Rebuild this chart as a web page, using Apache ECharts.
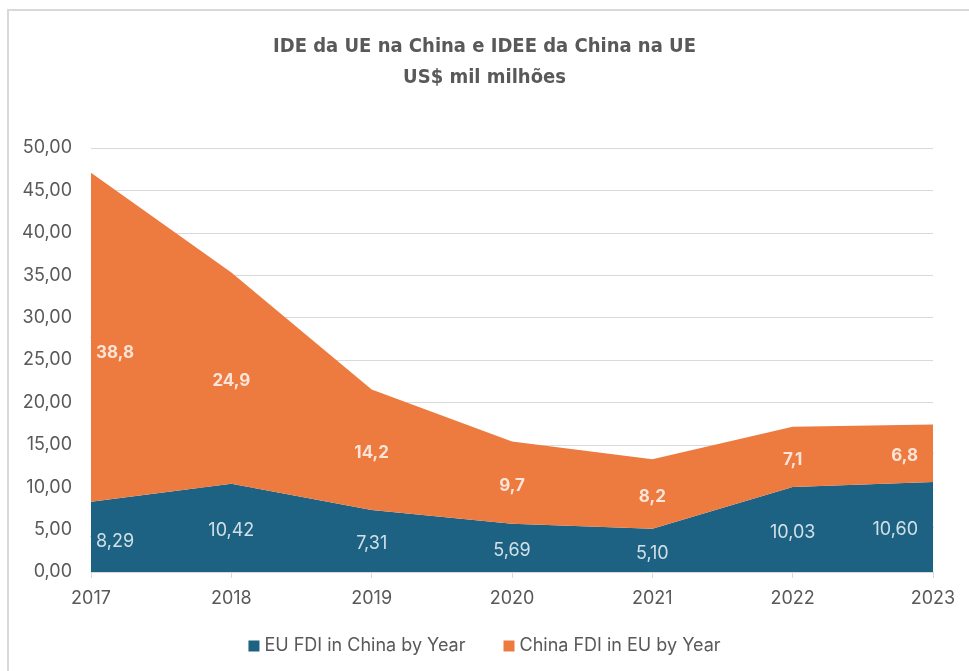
<!DOCTYPE html>
<html>
<head>
<meta charset="utf-8">
<script src="https://cdn.jsdelivr.net/npm/echarts@6/dist/echarts.min.js"></script>
<style>
html,body{margin:0;padding:0;background:#fff;}
#chart{width:969px;height:671px;}
</style>
</head>
<body>
<div id="chart"></div>
<script>
// dados
var anos = ['2017','2018','2019','2020','2021','2022','2023'];
var euFdi = [8.29, 10.42, 7.31, 5.69, 5.10, 10.03, 10.60];
var chinaFdi = [38.8, 24.9, 14.2, 9.7, 8.2, 7.1, 6.8];
var nomeEu = 'EU FDI in China by Year';
var nomeChina = 'China FDI in EU by Year';

var corAzul = '#1D6282';
var corLaranja = '#ED7A3F';
var cinza = '#595959';

function virgula(v, d){
	return v.toFixed(d).replace('.', ',');
}

// rotulo nas pontas fica para dentro da area
function rotPonta(i, extraY){
	var ult = anos.length-1;
	if(i==0){
		return { align: 'left', offset: [5, 3+(extraY||0)] };
	}else if(i==ult){
		return { align: 'right', offset: [-15, 3] };
	}
	return { offset: [0, 3] };
}

// posicao dos rotulos (meio de cada faixa)
var posEu = [];
var posChina = [];
for(var i=0;i<anos.length;i++){
	posEu.push({ value: [anos[i], euFdi[i]/2], label: rotPonta(i, 2) });
	posChina.push({ value: [anos[i], euFdi[i]+chinaFdi[i]/2], label: rotPonta(i, 13) });
}

var myChart = echarts.init(document.getElementById('chart'));
myChart.setOption({
	animation: false,
	title: {
		text: 'IDE da UE na China e IDEE da China na UE\nUS$ mil milhões',
		left: 'center',
		top: 26,
		textStyle: {
			fontFamily: 'DejaVu Sans Condensed, Roboto',
			fontWeight: 'bold',
			fontSize: 20,
			color: cinza,
			lineHeight: 31
		}
	},
	graphic: [{
		type: 'polyline',
		shape: { points: [[8, 680], [8, 10], [980, 10]] },
		style: { stroke: '#D9D9D9', lineWidth: 2, fill: null }
	}],
	legend: {
		bottom: 11,
		left: 'center',
		itemWidth: 11,
		itemHeight: 11,
		itemGap: 38,
		icon: 'rect',
		data: [nomeEu, nomeChina],
		textStyle: { fontFamily: 'Inter', fontSize: 18, color: cinza }
	},
	grid: { left: 91, right: 36, top: 148, bottom: 99 },
	xAxis: {
		type: 'category',
		data: anos,
		boundaryGap: false,
		axisLine: { lineStyle: { color: '#D9D9D9', width: 1.5 } },
		axisTick: { show: true, length: 6, lineStyle: { color: '#D9D9D9' } },
		axisLabel: { fontFamily: 'Inter', fontSize: 18, color: cinza, margin: 18 }
	},
	yAxis: {
		type: 'value',
		min: 0,
		max: 50,
		interval: 5,
		axisLine: { show: false },
		axisTick: { show: false },
		splitLine: { lineStyle: { color: '#D9D9D9', width: 1.2 } },
		axisLabel: {
			fontFamily: 'Inter', fontSize: 18, color: cinza, margin: 19,
			formatter: function(v){ return virgula(v, 2); }
		}
	},
	series: [
		{
			name: nomeEu,
			type: 'line',
			stack: 'total',
			data: euFdi,
			symbol: 'none',
			lineStyle: { width: 0 },
			itemStyle: { color: corAzul },
			areaStyle: { color: corAzul, opacity: 1 }
		},
		{
			name: nomeChina,
			type: 'line',
			stack: 'total',
			data: chinaFdi,
			symbol: 'none',
			lineStyle: { width: 0 },
			itemStyle: { color: corLaranja },
			areaStyle: { color: corLaranja, opacity: 1 }
		},
		{
			name: 'rotEu',
			type: 'scatter',
			data: posEu,
			symbolSize: 1,
			z: 5,
			clip: false,
			itemStyle: { color: corAzul },
			label: {
				show: true,
				position: 'inside',
				fontFamily: 'Inter',
				fontSize: 18,
				color: '#fff',
				formatter: function(p){ return virgula(euFdi[p.dataIndex], 2); }
			},
			silent: true
		},
		{
			name: 'rotChina',
			type: 'scatter',
			data: posChina,
			symbolSize: 1,
			z: 5,
			clip: false,
			itemStyle: { color: corLaranja },
			label: {
				show: true,
				position: 'inside',
				fontFamily: 'Inter',
				fontWeight: 'bold',
				fontSize: 17,
				color: '#fff',
				formatter: function(p){ return virgula(chinaFdi[p.dataIndex], 1); }
			},
			silent: true
		}
	]
});
</script>
</body>
</html>
